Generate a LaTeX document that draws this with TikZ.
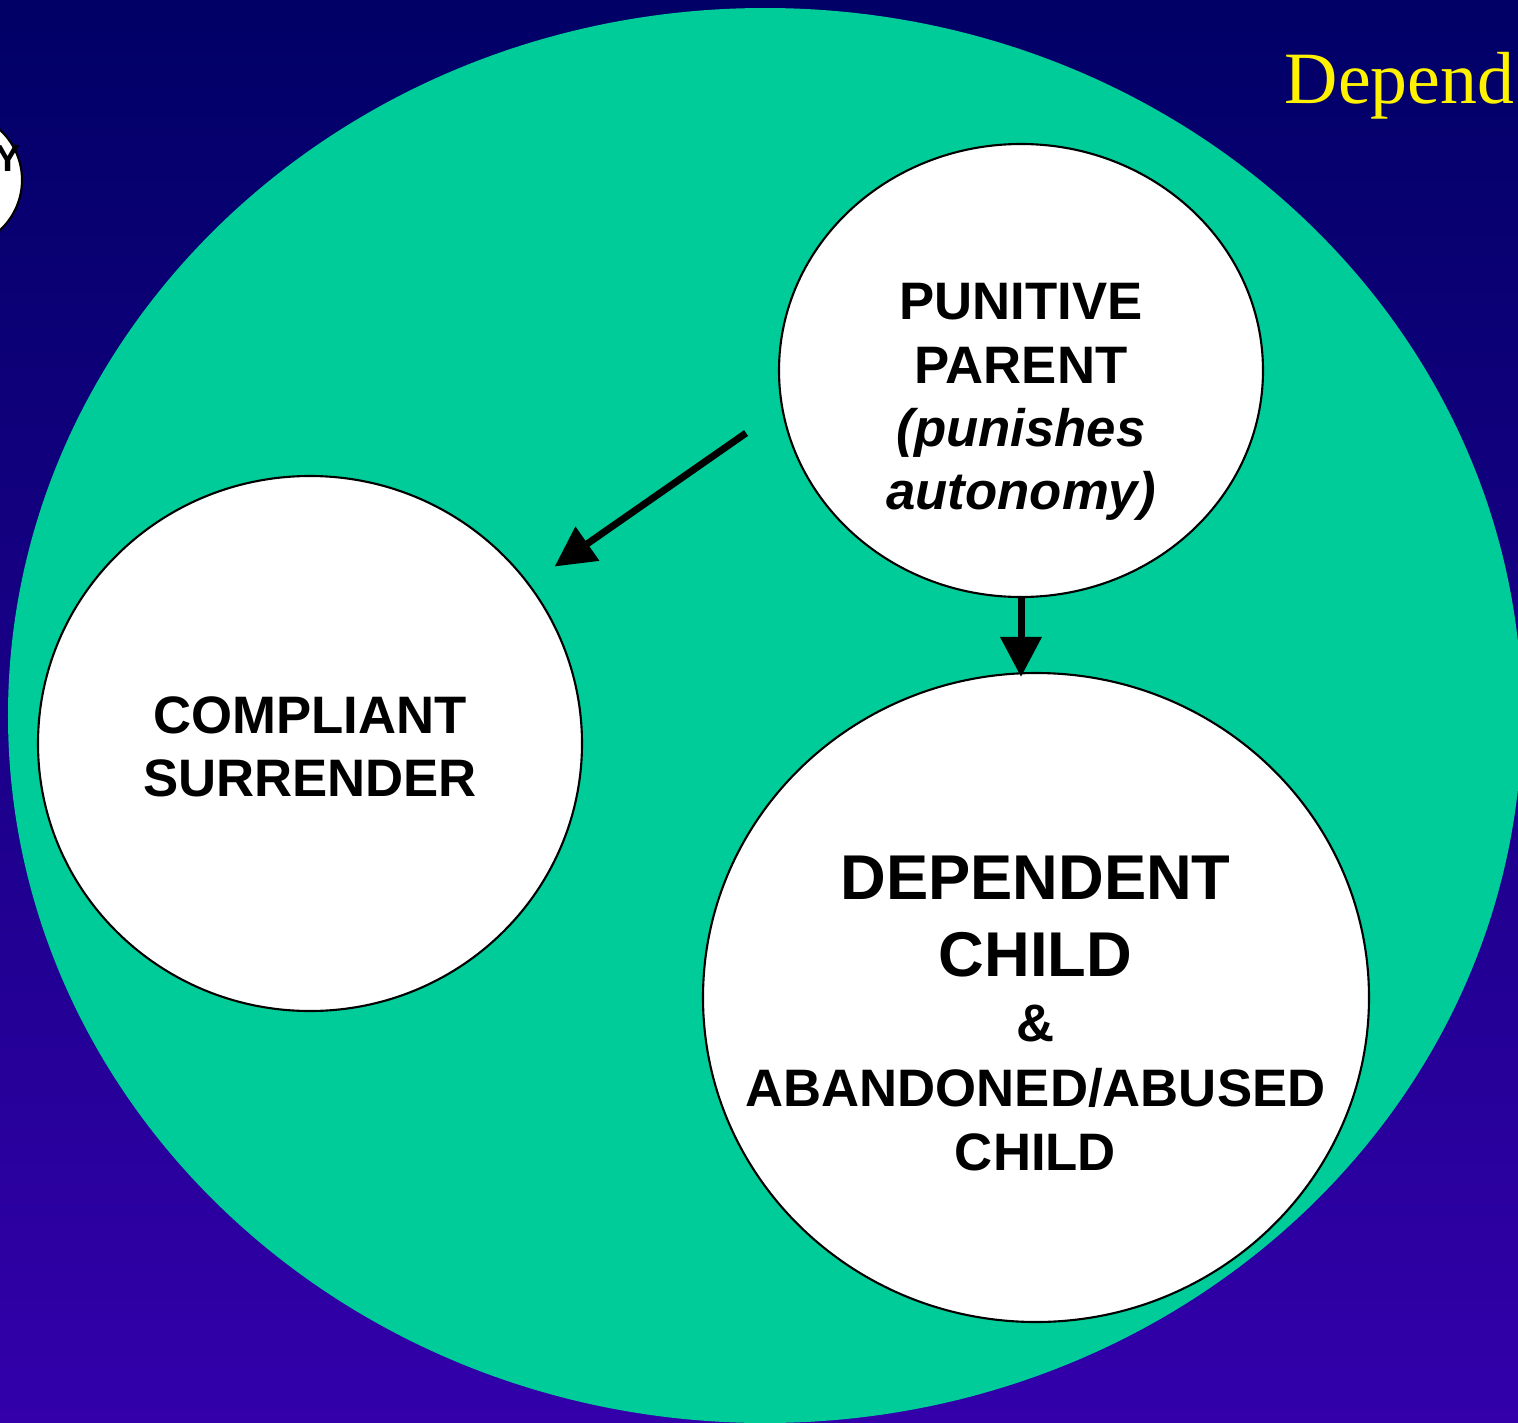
\documentclass[tikz,border=0pt]{standalone}
\usepackage{fontspec}
\setmainfont{Liberation Serif}
\newfontfamily\arialfont{Liberation Sans}
\usetikzlibrary{arrows.meta,shapes.geometric}
\definecolor{slidetop}{RGB}{0,0,102}
\definecolor{slidebot}{RGB}{51,0,170}
\definecolor{seagreen}{RGB}{0,204,153}

\begin{document}
\begin{tikzpicture}[
    bubble/.style={ellipse, draw=black, line width=0.6pt, fill=white, inner sep=0pt},
    lbl/.style={align=center, inner sep=0pt, font=\arialfont\bfseries\fontsize{15}{18}\selectfont},
    arr/.style={line width=0.07cm, -{Triangle[length=0.4cm,width=0.4cm]}}
  ]
    \useasboundingbox (0,0) rectangle (15.18,-14.23);
    \shade[top color=slidetop, bottom color=slidebot] (0,0) rectangle (15.18,-14.23);
    \fill[seagreen] (7.65,-7.155) ellipse [x radius=7.57, y radius=7.075];

    \node[bubble, minimum width=1.36cm, minimum height=1.36cm] (other) at (-0.46,-1.80) {};
    \node[lbl, font=\arialfont\bfseries\fontsize{10.7}{13}\selectfont] (othertxt) at (0.085,-1.585) {Y};
    \node[anchor=base west, inner sep=0pt, text=yellow, font=\fontsize{21}{25}\selectfont] (title) at (12.84,-1.03) {Depend};

    \node[bubble, minimum width=4.84cm, minimum height=4.53cm] (parent) at (10.21,-3.705) {};
    \node[lbl] (parenttxt) at (10.21,-4.02) {PUNITIVE\\PARENT\\\textit{(punishes}\\\textit{autonomy)}};

    \node[bubble, minimum width=5.44cm, minimum height=5.35cm] (comply) at (3.10,-7.435) {};
    \node[lbl] (complytxt) at (3.10,-7.47) {COMPLIANT\\SURRENDER};

    \node[bubble, minimum width=6.66cm, minimum height=6.49cm] (depchild) at (10.36,-9.975) {};
    \node[lbl] (deptxt) at (10.355,-10.135) {{\fontsize{18}{21.6}\selectfont DEPENDENT}\\[0.13cm]{\fontsize{18}{21.6}\selectfont CHILD}\\[0.02cm]\&\\[0.02cm]ABANDONED/ABUSED\\CHILD};

    \draw[arr, shorten <=0.43cm, shorten >=0.305cm] (parent.189) -- (comply.36);
    \draw[arr, shorten >=-0.05cm] (parent.south) -- (parent.south |- depchild.north);
  \end{tikzpicture}
\end{document}
